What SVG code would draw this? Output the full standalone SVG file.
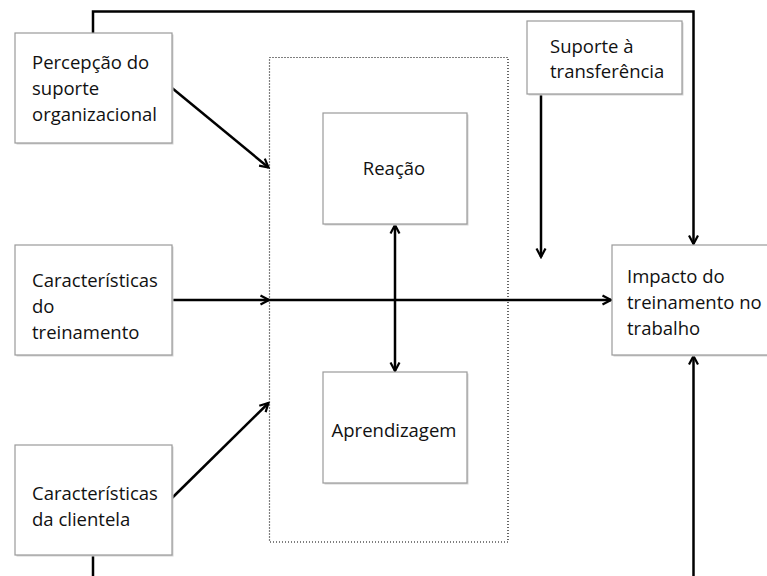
<svg xmlns="http://www.w3.org/2000/svg" width="767" height="576" viewBox="0 0 767 576">
  <style>
    .box { fill: #ffffff; stroke: #9a9a9a; stroke-width: 1.2; }
    .shadow { fill: #d4d4d4; }
    .lbl { font-family: "Open Sans", "Liberation Sans", sans-serif; font-size: 18.5px; fill: #111111; }
    .mid { text-anchor: middle; }
    .wire { fill: none; stroke: #000000; stroke-width: 2.5; }
    .frame { fill: none; stroke: #000000; stroke-width: 1.2; stroke-dasharray: 1 2; }
  </style>
  <defs>
    <marker id="head" viewBox="0 0 12 12" refX="10.5" refY="6" markerWidth="12" markerHeight="12" markerUnits="userSpaceOnUse" orient="auto-start-reverse">
      <path d="M2,1.5 L10.5,6 L2,10.5" fill="none" stroke="#000000" stroke-width="2.2"/>
    </marker>
  </defs>

  <rect width="767" height="576" fill="#ffffff"/>

  <!-- dotted frame around the training outcomes -->
  <rect class="frame" x="269.5" y="57.5" width="238.5" height="484.5"/>

  <g id="connectors">
    <!-- feedback loop over the top -->
    <polyline class="wire" points="93,33 93,11.5 693.5,11.5 693.5,244" marker-end="url(#head)"/>
    <!-- feedback loop under the bottom -->
    <line class="wire" x1="93" y1="555" x2="93" y2="578"/>
    <line class="wire" x1="693.5" y1="578" x2="693.5" y2="356" marker-end="url(#head)"/>
    <!-- transfer support down -->
    <line class="wire" x1="541" y1="94" x2="541" y2="257" marker-end="url(#head)"/>
    <!-- inputs into the frame -->
    <line class="wire" x1="172" y1="88" x2="268.5" y2="167.5" marker-end="url(#head)"/>
    <line class="wire" x1="172" y1="300" x2="269" y2="300" marker-end="url(#head)" stroke-width="3"/>
    <line class="wire" x1="269" y1="300" x2="611" y2="300" marker-end="url(#head)"/>
    <line class="wire" x1="172" y1="498" x2="268.5" y2="403" marker-end="url(#head)"/>
    <!-- reaction <-> learning -->
    <line class="wire" x1="395" y1="225" x2="395" y2="371" marker-start="url(#head)" marker-end="url(#head)"/>
  </g>

  <g id="percepcao">
    <rect class="shadow" x="16.5" y="34.5" width="157" height="110"/>
    <rect class="box" x="15" y="33" width="157" height="110"/>
    <text class="lbl" x="32" y="69">Percepção do</text>
    <text class="lbl" x="32" y="95">suporte</text>
    <text class="lbl" x="32" y="121">organizacional</text>
  </g>

  <g id="caracteristicas-treinamento">
    <rect class="shadow" x="16.5" y="246.5" width="157" height="110"/>
    <rect class="box" x="15" y="245" width="157" height="110"/>
    <text class="lbl" x="32" y="287">Características</text>
    <text class="lbl" x="32" y="313">do</text>
    <text class="lbl" x="32" y="339">treinamento</text>
  </g>

  <g id="caracteristicas-clientela">
    <rect class="shadow" x="16.5" y="446.5" width="157" height="110"/>
    <rect class="box" x="15" y="445" width="157" height="110"/>
    <text class="lbl" x="32" y="500">Características</text>
    <text class="lbl" x="32" y="526">da clientela</text>
  </g>

  <g id="suporte-transferencia">
    <rect class="shadow" x="528.5" y="22.5" width="155" height="73"/>
    <rect class="box" x="527" y="21" width="155" height="73"/>
    <text class="lbl" x="550" y="53">Suporte à</text>
    <text class="lbl" x="550" y="78">transferência</text>
  </g>

  <g id="reacao">
    <rect class="shadow" x="324.5" y="114.5" width="144" height="111"/>
    <rect class="box" x="323" y="113" width="144" height="111"/>
    <text class="lbl mid" x="394" y="175">Reação</text>
  </g>

  <g id="aprendizagem">
    <rect class="shadow" x="324.5" y="373.5" width="144" height="111"/>
    <rect class="box" x="323" y="372" width="144" height="111"/>
    <text class="lbl mid" x="394" y="437">Aprendizagem</text>
  </g>

  <g id="impacto">
    <rect class="shadow" x="613.5" y="246.5" width="160" height="110"/>
    <rect class="box" x="612" y="245" width="160" height="110"/>
    <text class="lbl" x="627" y="283">Impacto do</text>
    <text class="lbl" x="627" y="309">treinamento no</text>
    <text class="lbl" x="627" y="335">trabalho</text>
  </g>
</svg>
